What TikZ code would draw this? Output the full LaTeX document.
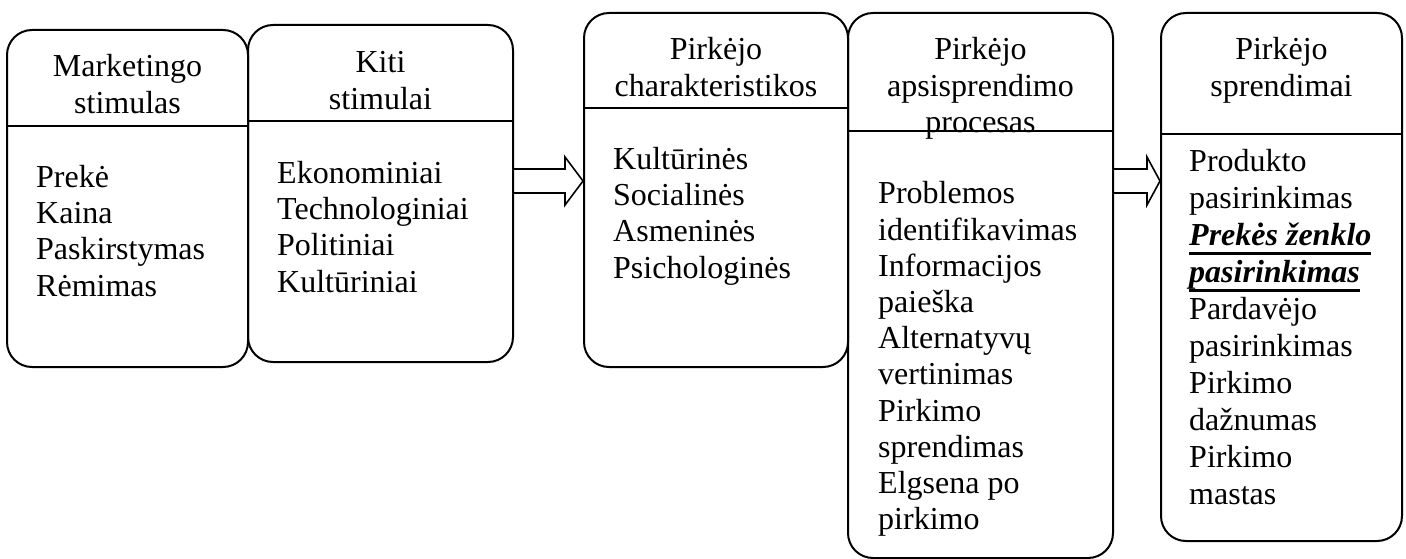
\documentclass[tikz,border=0pt]{standalone}
\usepackage{fontspec}
\setmainfont{Liberation Serif}
\usetikzlibrary{calc}

% text settings shared by all labels
\newcommand\diagfont{\fontsize{32}{36.5}\selectfont}
\newcommand\linestack[2][l]{\begin{tabular}[t]{@{}#1@{}}#2\end{tabular}}
% heavy underline for the emphasised entry
\newcommand\thickul[1]{\setbox0\hbox{#1}\leavevmode\rlap{\rule[-9.5pt]{\wd0}{3pt}}\box0}

\tikzset{
  box/.style={draw, line width=2pt, rounded corners=25pt, inner sep=0pt},
  divider/.style={line width=2pt},
  head/.style={anchor=base, inner sep=0pt, font=\diagfont},
  body/.style={anchor=base west, inner sep=0pt, font=\diagfont},
  blockarrow/.style={draw, line width=1.6pt, line join=miter},
}

\begin{document}
\begin{tikzpicture}[x=1pt, y=-1pt]
\useasboundingbox (0,0) rectangle (1406,559);

% the five columns
\node[box, minimum width=241, minimum height=337] (b1) at (127.5,198.5) {};
\node[box, minimum width=265, minimum height=337] (b2) at (380.5,193.5) {};
\node[box, minimum width=264, minimum height=354] (b3) at (716,190) {};
\node[box, minimum width=265, minimum height=545] (b4) at (980.5,285.5) {};
\node[box, minimum width=241, minimum height=528] (b5) at (1281.5,277) {};

% title separators
\draw[divider] (b1.west |- 0,126) -- (b1.east |- 0,126);
\draw[divider] (b2.west |- 0,121) -- (b2.east |- 0,121);
\draw[divider] (b3.west |- 0,108) -- (b3.east |- 0,108);
\draw[divider] (b4.west |- 0,131) -- (b4.east |- 0,131);
\draw[divider] (b5.west |- 0,134) -- (b5.east |- 0,134);

% titles
\node[head] (h1) at (b1.center |- 0,77) {\linestack[c]{Marketingo\\stimulas}};
\node[head] (h2) at (b2.center |- 0,73) {\linestack[c]{Kiti\\stimulai}};
\node[head] (h3) at (b3.center |- 0,60) {\linestack[c]{Pirkėjo\\charakteristikos}};
\node[head] (h4) at (b4.center |- 0,60) {\linestack[c]{Pirkėjo\\apsisprendimo\\procesas}};
\node[head] (h5) at (b5.center |- 0,60) {\linestack[c]{Pirkėjo\\sprendimai}};

% contents
\node[body] (l1) at (36,187) {\linestack{Prekė\\Kaina\\Paskirstymas\\Rėmimas}};
\node[body] (l2) at (277,183) {\linestack{Ekonominiai\\Technologiniai\\Politiniai\\Kultūriniai}};
\node[body] (l3) at (613,169) {\linestack{Kultūrinės\\Socialinės\\Asmeninės\\Psichologinės}};
\node[body, font=\fontsize{32}{36.2}\selectfont] (l4) at (878,204)
  {\linestack{Problemos\\identifikavimas\\Informacijos\\paieška\\Alternatyvų\\vertinimas\\Pirkimo\\sprendimas\\Elgsena po\\pirkimo}};
\node[body, font=\fontsize{32}{37}\selectfont] (l5) at (1189,171.5)
  {\linestack{Produkto\\pasirinkimas\\\thickul{\textbf{\textit{Prekės ženklo}}}\\\thickul{\textbf{\textit{pasirinkimas}}}\\Pardavėjo\\pasirinkimas\\Pirkimo\\dažnumas\\Pirkimo\\mastas}};

% hollow block arrows between the stages
\path (b2.east |- 0,181) coordinate (a1s) (b3.west |- 0,181) coordinate (a1e);
\draw[blockarrow] ($(a1s)+(0,-12)$) -- ($(a1e)+(-18,-12)$) -- ($(a1e)+(-18,-24)$) -- (a1e)
  -- ($(a1e)+(-18,24)$) -- ($(a1e)+(-18,12)$) -- ($(a1s)+(0,12)$);
\path (b4.east |- 0,181) coordinate (a2s) (b5.west |- 0,181) coordinate (a2e);
\draw[blockarrow] ($(a2s)+(0,-12)$) -- ($(a2e)+(-13,-12)$) -- ($(a2e)+(-13,-24)$) -- (a2e)
  -- ($(a2e)+(-13,24)$) -- ($(a2e)+(-13,12)$) -- ($(a2s)+(0,12)$);
\end{tikzpicture}
\end{document}
